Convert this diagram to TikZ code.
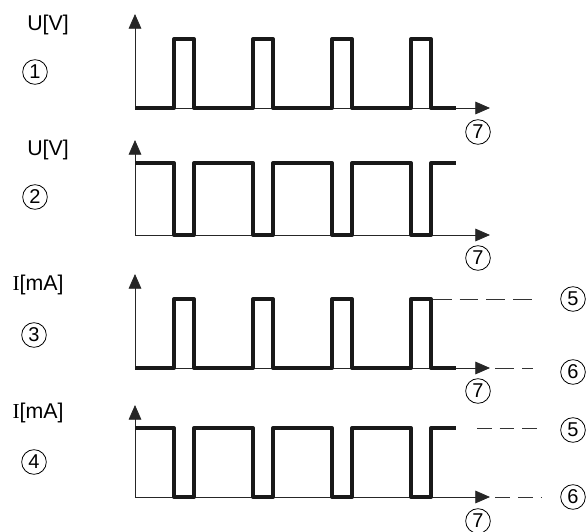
\documentclass[tikz,border=0pt]{standalone}
\usepackage{fontspec}
\setmainfont{Liberation Sans}
\newfontfamily\serifI{Liberation Serif}
\usetikzlibrary{arrows.meta}

\begin{document}
\begin{tikzpicture}[x=0.75pt,y=-0.75pt,
    >={Triangle[length=11pt,width=9.5pt]},
    axis/.style={draw=black!85,line width=0.6pt},
    wave/.style={draw=black!90,line width=3pt,line join=round},
    level/.style={draw=black!80,line width=0.6pt,dash pattern=on 14pt off 6pt},
    shortlevel/.style={draw=black!80,line width=0.6pt,dash pattern=on 11pt off 6pt}]
\useasboundingbox (0,0) rectangle (588,531);
\begin{scope}[every node/.style={font=\fontsize{16}{19}\selectfont}]
    \node (u1) at (48,25) {U[V]};
    \node (u2) at (48,150) {U[V]};
    \node (i3) at (38,285) {{\serifI I}[mA]};
    \node (i4) at (38,413) {{\serifI I}[mA]};
\end{scope}
\begin{scope}[every node/.style={circle,draw,line width=0.6pt,inner sep=0pt,
              minimum size=18.5pt,font=\fontsize{15}{18}\selectfont}]
    \node (n1) at (35,72) {1};
    \node (n2) at (35,197) {2};
    \node (n3) at (34,335) {3};
    \node (n4) at (34,462) {4};
    \node (hi3) at (573,299) {5};
    \node (lo3) at (573,372) {6};
    \node (hi4) at (573,430) {5};
    \node (lo4) at (573,497) {6};
    \node (t1) at (478,132) {7};
    \node (t2) at (478,258) {7};
    \node (t3) at (478,391) {7};
    \node (t4) at (478,521) {7};
\end{scope}
% axes
\coordinate (o1) at (135,108); \coordinate (y1) at (135,14);  \coordinate (x1) at (490,108);
\coordinate (o2) at (135,235); \coordinate (y2) at (135,140); \coordinate (x2) at (490,235);
\coordinate (o3) at (135,368); \coordinate (y3) at (135,274); \coordinate (x3) at (490,368);
\coordinate (o4) at (135,497); \coordinate (y4) at (135,405); \coordinate (x4) at (490,497);
\foreach \k in {1,2,3,4} {
    \draw [axis,->] (o\k) -- (y\k);
    \draw [axis,->] (o\k) -- (x\k);
}
% pulses
\draw [wave] (135,108) -- (174,108) -- (174,39) -- (194,39) -- (194,108)
    -- (253,108) -- (253,39) -- (273,39) -- (273,108)
    -- (332,108) -- (332,39) -- (352,39) -- (352,108)
    -- (411,108) -- (411,39) -- (431,39) -- (431,108) -- (456,108);
\draw [wave] (135,163) -- (174,163) -- (174,235) -- (194,235) -- (194,163)
    -- (253,163) -- (253,235) -- (273,235) -- (273,163)
    -- (332,163) -- (332,235) -- (352,235) -- (352,163)
    -- (411,163) -- (411,235) -- (431,235) -- (431,163) -- (456,163);
\draw [wave] (135,368) -- (174,368) -- (174,299) -- (194,299) -- (194,368)
    -- (253,368) -- (253,299) -- (273,299) -- (273,368)
    -- (332,368) -- (332,299) -- (352,299) -- (352,368)
    -- (411,368) -- (411,299) -- (431,299) -- (431,368) -- (456,368);
\draw [wave] (135,428) -- (174,428) -- (174,497) -- (194,497) -- (194,428)
    -- (253,428) -- (253,497) -- (273,497) -- (273,428)
    -- (332,428) -- (332,497) -- (352,497) -- (352,428)
    -- (411,428) -- (411,497) -- (431,497) -- (431,428) -- (456,428);
% levels
\draw [level] (433,299) -- (533,299);
\draw [level,dash phase=-4pt] (490,368) -- (533,368);
\draw [shortlevel] (477,428) -- (542,428);
\draw [shortlevel,dash phase=-4pt] (490,497) -- (542,497);
\end{tikzpicture}
\end{document}
